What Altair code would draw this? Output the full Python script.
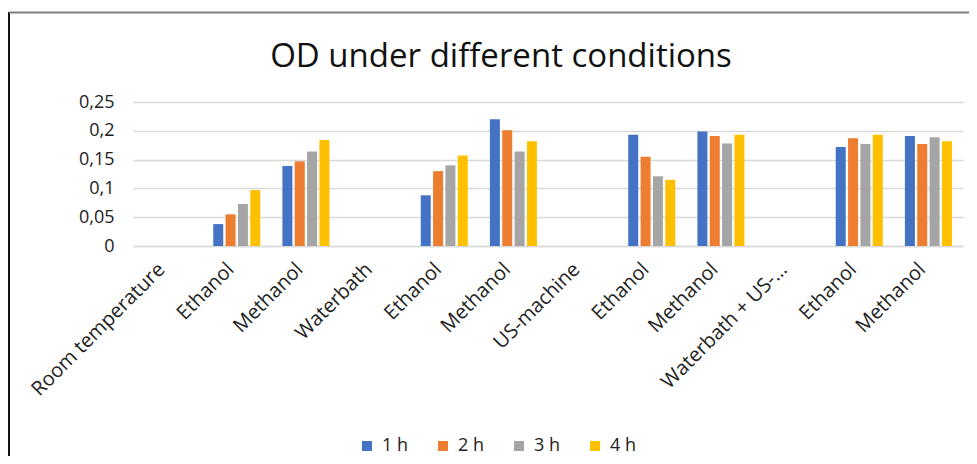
import altair as alt
import pandas as pd

categories = ["Room temperature", "Ethanol", "Methanol", "Waterbath", "Ethanol", "Methanol",
              "US-machine", "Ethanol", "Methanol", "Waterbath + US-…", "Ethanol", "Methanol"]
series = ["1 h", "2 h", "3 h", "4 h"]
v1h = [0, 0.038, 0.139, 0, 0.088, 0.220, 0, 0.193, 0.199, 0, 0.172, 0.191]
v2h = [0, 0.055, 0.147, 0, 0.130, 0.201, 0, 0.155, 0.191, 0, 0.187, 0.177]
v3h = [0, 0.073, 0.164, 0, 0.140, 0.164, 0, 0.121, 0.178, 0, 0.177, 0.189]
v4h = [0, 0.097, 0.184, 0, 0.157, 0.182, 0, 0.115, 0.193, 0, 0.193, 0.182]
colors = ["#4472C4", "#ED7D31", "#A5A5A5", "#FFC000"]

rows = []
for s, vals in zip(series, [v1h, v2h, v3h, v4h]):
    for i, v in enumerate(vals):
        rows.append({"idx": i, "series": s, "value": v})
df = pd.DataFrame(rows)

label_array = "[" + ",".join("'" + c + "'" for c in categories) + "]"

FONT = "Open Sans"

bars = alt.Chart(df).mark_bar().encode(
    x=alt.X("idx:O", title=None,
            scale=alt.Scale(paddingInner=0.32, paddingOuter=0.16),
            axis=alt.Axis(labelAngle=-45, labelAlign="right", labelBaseline="middle",
                          labelExpr=label_array + "[datum.value]",
                          labelFontSize=20, labelColor="#222222", labelFont=FONT,
                          ticks=False, domainColor="#d9d9d9", domainWidth=1.5,
                          labelPadding=20, labelOffset=-6, labelLimit=400)),
    xOffset=alt.XOffset("series:N", sort=series,
                        scale=alt.Scale(paddingInner=0.19)),
    y=alt.Y("value:Q", title=None,
            scale=alt.Scale(domain=[0, 0.25]),
            axis=alt.Axis(values=[0, 0.05, 0.1, 0.15, 0.2, 0.25],
                          labelExpr="replace(toString(datum.value), '.', ',')",
                          labelFontSize=18, labelColor="#222222", labelFont=FONT,
                          ticks=False, domain=False, gridColor="#d9d9d9", gridWidth=1.5,
                          labelPadding=19)),
    color=alt.Color("series:N", sort=series,
                    scale=alt.Scale(domain=series, range=colors),
                    legend=alt.Legend(title=None, orient="none", direction="horizontal",
                                      legendX=225, legendY=335, padding=0,
                                      symbolType="square", symbolSize=100, symbolStrokeWidth=0,
                                      labelFontSize=18, labelFont=FONT, labelColor="#222222",
                                      labelOffset=6, columnPadding=25)),
)

frame_df = pd.DataFrame({"k": [0]})
left_edge = alt.Chart(frame_df).mark_rule(color="#111111", strokeWidth=2).encode(
    x=alt.value(-124), y=alt.value(-90), y2=alt.value(362))
top_edge = alt.Chart(frame_df).mark_rule(color="#7f7f7f", strokeWidth=2).encode(
    x=alt.value(-124), x2=alt.value(844), y=alt.value(-89.5))

chart = alt.layer(bars, left_edge, top_edge).properties(
    width=830, height=144,
    autosize=alt.AutoSizeParams(type="none"),
    title=alt.TitleParams("OD under different conditions", fontSize=33, font=FONT,
                          fontWeight="normal", color="#111111", anchor="middle",
                          offset=-63, dx=-47),
    padding={"left": 125, "top": 94, "right": 6, "bottom": 210},
).configure_view(stroke=None)

chart.save("out.html", embed_options={"renderer": "svg", "actions": False})
